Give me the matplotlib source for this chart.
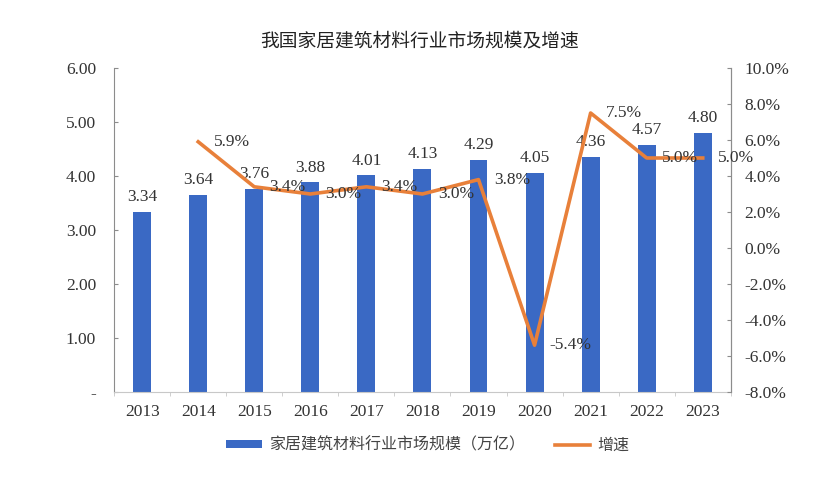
import matplotlib
matplotlib.use("Agg")
import matplotlib.pyplot as plt
from matplotlib.ticker import FixedLocator, FuncFormatter
import numpy as np

plt.rcParams["font.family"] = ["Liberation Serif", "Noto Sans CJK SC", "DejaVu Sans"]

years = ["2013", "2014", "2015", "2016", "2017", "2018",
         "2019", "2020", "2021", "2022", "2023"]
market_size = [3.34, 3.64, 3.76, 3.88, 4.01, 4.13, 4.29, 4.05, 4.36, 4.57, 4.80]
growth_years = years[1:]
growth_rate = [5.9, 3.4, 3.0, 3.4, 3.0, 3.8, -5.4, 7.5, 5.0, 5.0]

title = "我国家居建筑材料行业市场规模及增速"
bar_label = "家居建筑材料行业市场规模（万亿）"
line_label = "增速"

bar_color = "#3a69c4"
line_color = "#e8803a"
axis_color = "#8c8c8c"
text_color = "#333333"

fig = plt.figure(figsize=(8.39, 5.0), dpi=100)
ax = fig.add_axes([0.136, 0.216, 0.735, 0.648])
ax2 = ax.twinx()

x = np.arange(len(years))
bars = ax.bar(x, market_size, width=0.32, color=bar_color, label=bar_label, zorder=2)
for xi, v in zip(x, market_size):
    ax.annotate(f"{v:.2f}", (xi, v), xytext=(0, 5), textcoords="offset points",
                ha="center", va="bottom", fontsize=12.5, color=text_color)

gx = x[1:]
line, = ax2.plot(gx, growth_rate, color=line_color, lw=2.6, label=line_label,
                 solid_joinstyle="round", zorder=3)
for xi, v in zip(gx, growth_rate):
    ax2.annotate(f"{v:.1f}%", (xi, v), xytext=(11, 0), textcoords="offset points",
                 ha="left", va="center", fontsize=12.5, color=text_color)

ax.set_xlim(-0.5, len(years) - 0.5)
ax.set_ylim(0, 6)
ax2.set_ylim(-8, 10)

ax.set_xticks(x)
ax.set_xticklabels(years)
ax.xaxis.set_minor_locator(FixedLocator(np.arange(-0.5, len(years), 1.0)))
ax.tick_params(axis="x", which="major", length=0, pad=9, labelsize=12.5,
               labelcolor=text_color)
ax.tick_params(axis="x", which="minor", length=3, direction="out", color="#c8c8c8")

ax.set_yticks(np.arange(0, 6.01, 1))
ax.yaxis.set_major_formatter(FuncFormatter(lambda v, p: "-" if v == 0 else f"{v:.2f}"))
ax.tick_params(axis="y", direction="in", length=3, pad=13, labelsize=12.5,
               color=axis_color, labelcolor=text_color)

ax2.set_yticks(np.arange(-8, 10.01, 2))
ax2.yaxis.set_major_formatter(FuncFormatter(lambda v, p: f"{v:.1f}%"))
ax2.tick_params(axis="y", direction="in", length=3, pad=10, labelsize=12.5,
                color=axis_color, labelcolor=text_color)

for a in (ax, ax2):
    a.spines["top"].set_visible(False)
    a.spines["left"].set_color(axis_color)
    a.spines["right"].set_color(axis_color)
    a.spines["bottom"].set_color("#c8c8c8")
ax2.spines["left"].set_visible(False)
ax2.spines["bottom"].set_visible(False)

fig.text(0.5, 0.918, title, ha="center", va="center", fontsize=13.5,
         family=["Noto Sans CJK SC", "DejaVu Sans"], color="#222222")

fig.legend([bars, line], [bar_label, line_label], loc="center",
           bbox_to_anchor=(0.51, 0.11), ncol=2, frameon=False,
           prop={"size": 11.5, "family": ["Noto Sans CJK SC", "DejaVu Sans"]},
           handlelength=2.2, handleheight=0.45, handletextpad=0.45,
           columnspacing=1.9, labelcolor="#444444")

fig.savefig("out.png", dpi=100)
